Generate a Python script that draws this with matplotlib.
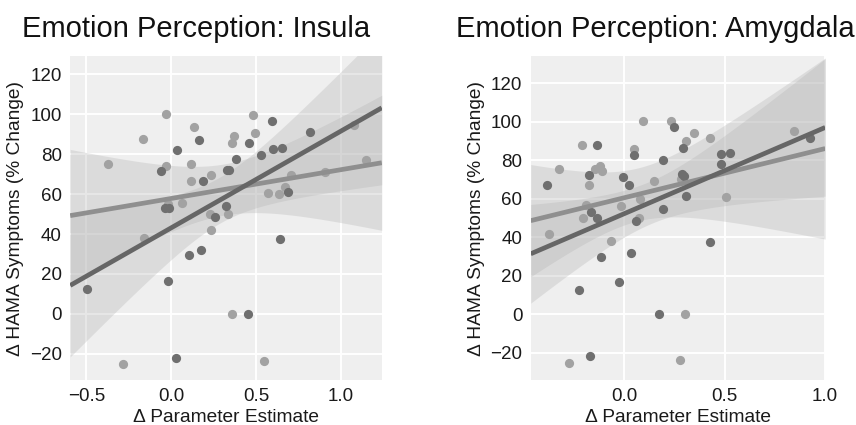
import matplotlib
matplotlib.use("Agg")
import matplotlib.pyplot as plt
import numpy as np

# --- Insula panel (light and dark groups) ---
ins_light_x = [-0.374, -0.168, -0.030, -0.031, -0.16, -0.02, 0.066, 0.133, 0.117, 0.115,
               0.232, 0.230, 0.232, 0.337, 0.357, 0.369, 0.484, 0.495, 0.572, 0.635,
               0.672, 0.708, 0.905, 1.077, 1.15, 0.357, -0.285, 0.547]
ins_light_y = [75, 87.5, 100, 74, 38, 55, 55.5, 93.5, 75, 66.5,
               69.5, 50, 42, 50, 85.5, 89, 99.5, 90.5, 60.5, 60,
               63.5, 69.5, 71, 94.5, 77, 0, -25, -23.5]
ins_dark_x = [-0.06, 0.036, -0.034, -0.014, 0.162, 0.185, 0.255, 0.174, 0.104, 0.321,
              0.328, 0.340, 0.382, 0.456, 0.527, 0.594, 0.599, 0.652, 0.690, 0.638,
              0.816, -0.494, -0.018, 0.027, 0.455]
ins_dark_y = [71.5, 82, 53, 53, 87, 66.5, 48.5, 32, 29.3, 54,
              72, 72, 77.5, 85.5, 79.7, 96.3, 82.6, 83, 61, 37.5,
              91, 12.5, 16.5, -21.8, 0]

# --- Amygdala panel ---
amy_light_x = [-0.375, -0.326, -0.213, -0.177, -0.19, -0.207, -0.145, -0.122, -0.11, -0.068,
               -0.015, 0.048, 0.092, 0.075, 0.072, 0.145, 0.234, 0.305, 0.345, 0.283,
               0.424, 0.508, 0.843, 0.302, -0.278, 0.275]
amy_light_y = [41.5, 75.3, 87.8, 67, 56.5, 50, 75.3, 77.2, 74.2, 38,
               56, 86, 100.4, 60, 50.2, 69.3, 100.4, 89.8, 94.1, 70,
               91.4, 61, 95.2, 0, -25, -23.5]
amy_dark_x = [-0.387, -0.138, -0.177, -0.165, -0.137, -0.006, 0.024, 0.047, 0.058, 0.192,
              0.193, 0.246, 0.29, 0.287, 0.297, 0.307, 0.481, 0.528, 0.481, 0.426,
              0.925, -0.224, -0.115, 0.032, -0.025, 0.171, -0.172]
amy_dark_y = [67, 87.8, 72.5, 53, 50, 71.5, 67, 82.5, 48.2, 80.2,
              54.6, 97.2, 86.2, 72.6, 71.8, 61.3, 83.2, 83.6, 78, 37.4,
              91.7, 12.5, 29.7, 31.6, 16.6, 0, -21.8]

titles = ["Emotion Perception: Insula", "Emotion Perception: Amygdala"]
xlims = [(-0.595, 1.24), (-0.467, 1.0)]
ylims = [(-33, 129), (-34, 134)]
xticks = [[-0.5, 0.0, 0.5, 1.0], [0.0, 0.5, 1.0]]

DARK_PT, LIGHT_PT = "#6f6f6f", "#a2a2a2"
DARK_LN, LIGHT_LN = "#666666", "#8f8f8f"

plt.rcParams["font.family"] = ["Liberation Sans", "DejaVu Sans"]


def fit_band(ax, x, y, xlim, color):
    # ols fit + 95% ci of the mean
    x = np.asarray(x, float)
    y = np.asarray(y, float)
    n = len(x)
    b, a = np.polyfit(x, y, 1)
    resid = y - (a + b * x)
    s = np.sqrt(np.sum(resid ** 2) / (n - 2))
    sxx = np.sum((x - x.mean()) ** 2)
    grid = np.linspace(xlim[0], xlim[1], 200)
    yhat = a + b * grid
    se = s * np.sqrt(1.0 / n + (grid - x.mean()) ** 2 / sxx)
    t = 2.07
    ax.fill_between(grid, yhat - t * se, yhat + t * se, color="#b0b0b0", alpha=0.3, lw=0, zorder=1)
    ax.plot(grid, yhat, color=color, lw=3.4, zorder=3, solid_capstyle="butt")


fig = plt.figure(figsize=(8.56, 4.25), dpi=100)
ax1 = fig.add_axes([0.082, 0.106, 0.364, 0.762])
ax2 = fig.add_axes([0.620, 0.106, 0.344, 0.762])

panels = [
    (ax1, ins_light_x, ins_light_y, ins_dark_x, ins_dark_y),
    (ax2, amy_light_x, amy_light_y, amy_dark_x, amy_dark_y),
]
title_x = [0.404, 0.422]

for i, (ax, lx, ly, dx, dy) in enumerate(panels):
    ax.set_facecolor("#efefef")
    ax.grid(True, color="white", lw=1.4, zorder=0)
    ax.set_axisbelow(True)
    for sp in ax.spines.values():
        sp.set_visible(False)
    ax.scatter(lx, ly, s=44, color=LIGHT_PT, lw=0, zorder=2)
    ax.scatter(dx, dy, s=44, color=DARK_PT, lw=0, zorder=2)
    fit_band(ax, lx, ly, xlims[i], LIGHT_LN)
    fit_band(ax, dx, dy, xlims[i], DARK_LN)
    ax.set_xlim(*xlims[i])
    ax.set_ylim(*ylims[i])
    ax.set_xticks(xticks[i])
    ax.set_yticks(np.arange(-20, 121, 20))
    ax.tick_params(length=0, labelsize=13.5, colors="#1a1a1a", pad=6)
    ax.set_xlabel("Δ Parameter Estimate", fontsize=13.8, color="#1a1a1a", labelpad=3)
    ax.set_ylabel("Δ HAMA Symptoms (% Change)", fontsize=13.8, color="#1a1a1a", labelpad=4)
    ax.set_title(titles[i], fontsize=21, x=title_x[i], pad=14, color="#111111")

fig.savefig("out.png", dpi=100)
